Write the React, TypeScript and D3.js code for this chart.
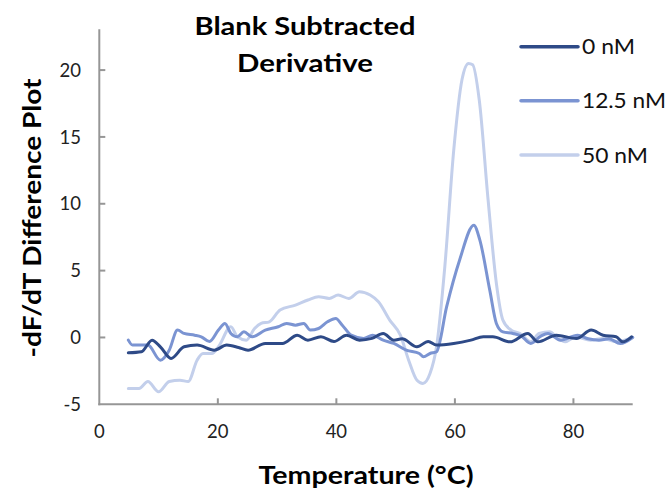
import React from "react";
import * as d3 from "d3";

const xTicks = [0, 20, 40, 60, 80];
const yTicks = [-5, 0, 5, 10, 15, 20];
const seriesNames = ["0 nM", "12.5 nM", "50 nM"];
const seriesColors = ["#2E4A87", "#7B94D2", "#C3CFEB"];

const temp0 = [4.9, 7.1, 8.9, 10.3, 12.1, 14.3, 16.5, 19.4, 21.5, 23.5, 25.1, 28, 30.9, 33.4, 35.2, 37.4, 39.6, 41.7, 43.9, 46, 47.9, 49.7, 51.1, 53.6, 55.5, 56.9, 59.8, 62.7, 64.8, 66.4, 69.3, 72.3, 74, 77.1, 80.5, 83, 85, 87.2, 88.3, 89.8];
const val0 = [-1.15, -1.07, -0.2, -0.7, -1.57, -0.7, -0.57, -0.95, -0.57, -0.75, -0.95, -0.45, -0.45, 0.17, -0.2, 0.05, -0.3, 0.17, -0.2, -0.07, 0.3, -0.2, -0.1, -0.7, -0.3, -0.57, -0.45, -0.2, 0.05, 0.05, -0.33, 0.3, -0.33, 0.17, -0.08, 0.55, 0.17, 0.05, -0.33, 0.05];

const temp1 = [4.9, 5.6, 8.2, 10.3, 11.8, 13.2, 14.3, 16.1, 17.2, 18.6, 20.1, 21.2, 22.2, 23.3, 24.4, 25.8, 28, 30.2, 31.6, 33.1, 34.5, 35.6, 37, 38.5, 39.9, 41, 42.5, 44.6, 46.1, 47.9, 49.7, 51.8, 54, 54.7, 55.8, 56.9, 58.6, 60.8, 63.2, 64.2, 65.9, 67, 68.1, 69.8, 71.2, 72.8, 74.5, 75.7, 77.8, 80.7, 82.5, 84.3, 86, 87.9, 90];
const val1 = [-0.2, -0.57, -0.57, -1.7, -0.95, 0.55, 0.3, 0.17, 0.05, -0.3, 0.55, 1.05, 0.3, 0.05, 0.42, 0.05, 0.55, 0.8, 1.05, 0.92, 1.05, 0.55, 0.67, 1.17, 1.42, 0.92, 0.17, -0.07, 0.17, -0.2, -0.45, -0.95, -1.2, -1.45, -1.2, -1.07, 2.29, 5.8, 8.4, 7.3, 3.5, 1.05, 0.42, 0.3, 0.1, -0.45, 0.1, 0.3, -0.2, 0.17, -0.1, -0.2, -0.1, -0.45, 0];

const temp2 = [4.9, 6.7, 8.2, 10, 11.8, 13.6, 15, 16.5, 17.5, 19, 20.1, 22.2, 23.3, 24.8, 26.2, 27.3, 28.7, 30.5, 33.1, 35.2, 37, 38.8, 40.3, 42.1, 43.9, 45.7, 47.1, 49, 50.8, 52.2, 53.6, 54.6, 55.8, 56.9, 58.3, 59.8, 61.2, 62.3, 63, 64.1, 65.6, 67, 68.1, 69.5, 71, 72.8, 74.2, 76, 77.1, 78.6, 80.4, 82.9, 85, 87.2, 90];
const val2 = [-3.82, -3.82, -3.3, -4.07, -3.3, -3.2, -3.3, -1.7, -1.2, -1.2, -0.7, 0.8, 0.05, -0.2, 0.67, 1.05, 1.17, 2.05, 2.42, 2.8, 3.05, 2.92, 3.17, 2.92, 3.42, 3.17, 2.67, 1.3, 0.17, -1.7, -3.2, -3.44, -2.7, -0.7, 5.3, 14, 19.3, 20.5, 20.4, 17.8, 10.3, 4.04, 1.3, 0.55, 0.3, -0.32, 0.3, 0.42, 0.05, -0.32, 0.05, -0.2, -0.07, -0.32, 0];

const temps = [temp0, temp1, temp2];
const vals = [val0, val1, val2];

const W = 671;
const H = 489;
const left = 99.3;
const right = 632.7;
const bottom = 404.3;
const top = 29.3;

export default function App() {
  const x = d3.scaleLinear().domain([0, 90]).range([left, right]);
  const y = d3.scaleLinear().domain([-5, 23.05]).range([bottom, top]);
  const line = d3
    .line<[number, number]>()
    .x((d) => x(d[0]))
    .y((d) => y(d[1]))
    .curve(d3.curveMonotoneX);

  const font = "Lato, 'Open Sans', sans-serif";
  const axisColor = "#969696";

  return (
    <svg
      width={W}
      height={H}
      style={{ position: "absolute", left: 0, top: 0, background: "#fff" }}
      fontFamily={font}
    >
      {/* series */}
      {temps.map((t, i) => (
        <path
          key={seriesNames[i]}
          d={line(t.map((tt, j) => [tt, vals[i][j]]) as [number, number][]) || ""}
          fill="none"
          stroke={seriesColors[i]}
          strokeWidth={3}
          strokeLinejoin="round"
          strokeLinecap="round"
        />
      )).reverse()}

      {/* axes */}
      <line x1={left} x2={left} y1={top} y2={bottom + 1} stroke={axisColor} strokeWidth={2} />
      <line x1={left - 1} x2={right} y1={bottom} y2={bottom} stroke={axisColor} strokeWidth={2} />
      {yTicks.map((v) => (
        <g key={"y" + v}>
          {v !== -5 && (
            <line x1={left} x2={left + 6} y1={y(v)} y2={y(v)} stroke={axisColor} strokeWidth={2} />
          )}
          <text x={81} y={y(v)} dy="0.36em" textAnchor="end" fontSize={18.5} fill="#222">
            {v}
          </text>
        </g>
      ))}
      {xTicks.map((v) => (
        <g key={"x" + v}>
          {v !== 0 && (
            <line x1={x(v)} x2={x(v)} y1={bottom} y2={bottom - 6} stroke={axisColor} strokeWidth={2} />
          )}
          <text x={x(v)} y={438} textAnchor="middle" fontSize={18.5} fill="#222">
            {v}
          </text>
        </g>
      ))}

      {/* title */}
      <text x={305} y={35} textAnchor="middle" fontSize={25} fontWeight="bold" fill="#000"
        textLength={221} lengthAdjust="spacingAndGlyphs">
        Blank Subtracted
      </text>
      <text x={305} y={72} textAnchor="middle" fontSize={25} fontWeight="bold" fill="#000"
        textLength={136} lengthAdjust="spacingAndGlyphs">
        Derivative
      </text>

      {/* axis titles */}
      <text
        transform={`translate(41,218) rotate(-90)`}
        textAnchor="middle"
        fontSize={25}
        fontWeight="bold"
        fill="#000"
        textLength={279}
        lengthAdjust="spacingAndGlyphs"
      >
        -dF/dT Difference Plot
      </text>
      <text x={366} y={484} textAnchor="middle" fontSize={25} fontWeight="bold" fill="#000"
        textLength={215} lengthAdjust="spacingAndGlyphs">
        Temperature (°C)
      </text>

      {/* legend */}
      {seriesNames.map((n, i) => {
        const ly = [46.7, 100.7, 155][i];
        return (
          <g key={"lg" + n}>
            <line x1={521} x2={578} y1={ly} y2={ly} stroke={seriesColors[i]} strokeWidth={3.5} strokeLinecap="round" />
            <text x={582} y={ly} dy="0.36em" fontSize={21} fill="#111"
              textLength={[53, 84, 66][i]} lengthAdjust="spacingAndGlyphs">
              {n}
            </text>
          </g>
        );
      })}
    </svg>
  );
}
